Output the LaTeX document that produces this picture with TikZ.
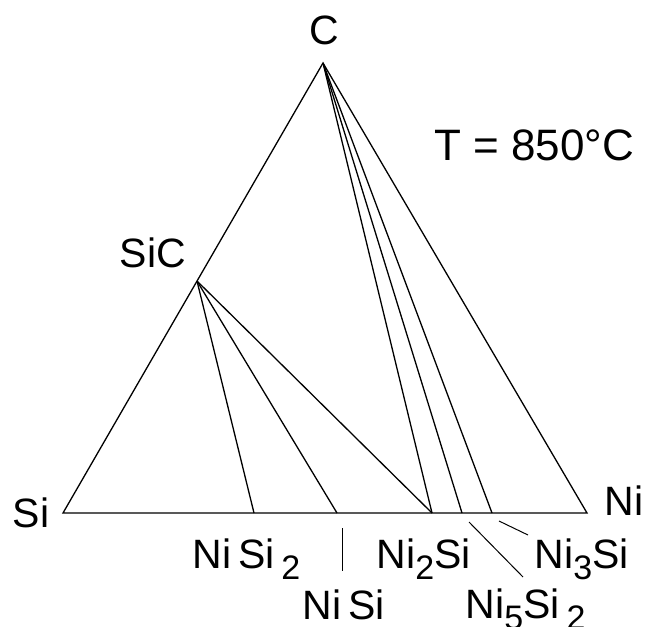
\documentclass[tikz,border=0pt]{standalone}
\usepackage{fontspec}
\setmainfont{Liberation Sans}
\usetikzlibrary{positioning}
\newcommand{\dn}[1]{\raisebox{-0.28em}{\fontsize{34}{34}\selectfont #1}}

\begin{document}
\begin{tikzpicture}[x=1pt,y=-1pt,line width=1.3pt,
    lbl/.style={font=\fontsize{41}{44}\selectfont,inner sep=0pt}]
    \useasboundingbox (0,0) rectangle (647,626);

    % Corners of the triangle
    \coordinate (si) at (63,513);
    \coordinate (ni) at (587,513);
    \coordinate (c) at (323,63);
    \coordinate (sic) at (197,281);

    % Phases on the Si-Ni side
    \coordinate (nisi2) at (254,513);
    \coordinate (nisi) at (337,513);
    \coordinate (ni2si) at (432,513);
    \coordinate (ni5si2) at (462,513);
    \coordinate (ni3si) at (492,513);

    % Triangle
    \draw (si) -- (ni) -- (c) -- cycle;

    % Tie lines from SiC
    \draw (sic) -- (nisi2);
    \draw (sic) -- (nisi);
    \draw (sic) -- (ni2si);

    % Tie lines from C
    \draw (c) -- (ni2si);
    \draw (c) -- (ni5si2);
    \draw (c) -- (ni3si);

    % Labels
    \node[lbl,anchor=base] (lc) at (324,45) {C};
    \node[lbl,anchor=base] (lsic) at (153,267) {SiC};
    \node[lbl,anchor=base] (lsi) at (31,527) {Si};
    \node[lbl,anchor=base west] (lni) at (604,515) {Ni};
    \node[lbl,anchor=base,font=\fontsize{44}{46}\selectfont] (ltemp) at (534,160) {T = 850°C};
    \node[lbl,anchor=base west] (lnisi2) at (192,568) {Ni\,Si\,\dn{2}};
    \node[lbl,anchor=base west] (lnisi) at (302,619) {Ni\,Si};
    \node[lbl,anchor=base west] (lni2si) at (376,568) {Ni\dn{2}Si};
    \node[lbl,anchor=base west] (lni3si) at (534,568) {Ni\dn{3}Si};
    \node[lbl,anchor=base west] (lni5si2) at (465,618) {Ni\dn{5}Si\,\dn{2}};

    % Leader lines
    \coordinate (t1) at (342,528);
    \coordinate (t2) at (342,571);
    \coordinate (t3) at (469,522);
    \coordinate (t4) at (523,577);
    \coordinate (t5) at (499,521);
    \coordinate (t6) at (528,535);
    \draw[line width=1pt] (t1) -- (t2);
    \draw[line width=1pt] (t3) -- (t4);
    \draw[line width=1pt] (t5) -- (t6);
\end{tikzpicture}
\end{document}
